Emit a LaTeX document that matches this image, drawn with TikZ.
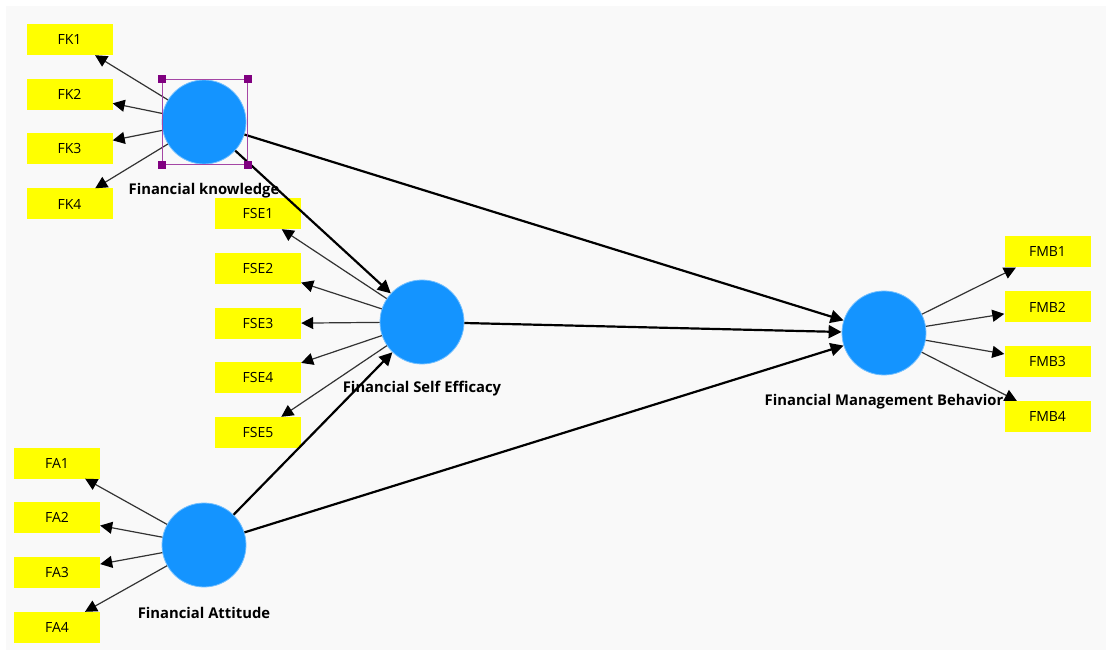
\documentclass[tikz,border=0pt]{standalone}
\usepackage{fontspec}
\setmainfont{Open Sans}
\usetikzlibrary{arrows.meta}
\definecolor{lvblue}{RGB}{20,148,255}
\definecolor{indyellow}{RGB}{255,255,0}
\definecolor{bggray}{RGB}{249,249,249}
\definecolor{selline}{RGB}{165,70,165}
\definecolor{selhandle}{RGB}{128,0,128}
\begin{document}
\begin{tikzpicture}[x=1pt,y=-1pt,
  latent/.style={circle, fill=lvblue, draw=lvblue!60!white, line width=0.8pt, minimum size=84pt, inner sep=0pt},
  ind/.style={rectangle, fill=indyellow, minimum width=86pt, minimum height=31pt, inner sep=0pt, font=\fontsize{14}{16}\selectfont},
  lab/.style={font=\fontsize{14.8}{17}\selectfont\bfseries, inner sep=0pt},
  load/.style={draw=black!80, line width=1.2pt, -{Triangle[length=12pt,width=12pt,color=black]}},
  struct/.style={draw=black, line width=2.2pt, -{Triangle[length=13pt,width=13pt]}},
  handle/.style={rectangle, fill=selhandle, minimum size=8pt, inner sep=0pt},
  selbox/.style={rectangle, draw=selline, line width=1pt, minimum size=85pt, inner sep=0pt}
]
\useasboundingbox (0,0) rectangle (1106,652);
\fill[bggray] (6,6) rectangle (1106,650);

% latent variables
\node[latent] (FK) at (204,122) {};
\node[latent] (FSE) at (422,322) {};
\node[latent] (FA) at (204,545) {};
\node[latent] (FMB) at (884,333) {};

% labels
\node[lab] (lFK) at (204,191) {Financial knowledge};
\node[lab] (lFSE) at (422,389) {Financial Self Efficacy};
\node[lab] (lFA) at (204,613) {Financial Attitude};
\node[lab] (lFMB) at (884,402) {Financial Management Behavior};

% indicators
\node[ind] (FK1) at (69.5,39.5) {FK1};
\node[ind] (FK2) at (69.5,94.5) {FK2};
\node[ind] (FK3) at (69.5,149) {FK3};
\node[ind] (FK4) at (69.5,204) {FK4};

\node[ind] (FSE1) at (258,213.5) {FSE1};
\node[ind] (FSE2) at (258,268.5) {FSE2};
\node[ind] (FSE3) at (258,323.5) {FSE3};
\node[ind] (FSE4) at (258,377.5) {FSE4};
\node[ind] (FSE5) at (258,432.5) {FSE5};

\node[ind] (FA1) at (57,463) {FA1};
\node[ind] (FA2) at (57,517.5) {FA2};
\node[ind] (FA3) at (57,572) {FA3};
\node[ind] (FA4) at (57,627.5) {FA4};

\node[ind] (FMB1) at (1047.5,252) {FMB1};
\node[ind] (FMB2) at (1047.5,307) {FMB2};
\node[ind] (FMB3) at (1047.5,361.5) {FMB3};
\node[ind] (FMB4) at (1047.5,416.5) {FMB4};

% loadings
\foreach \i in {1,...,4} \draw[load] (FK) -- (FK\i);
\foreach \i in {1,...,5} \draw[load] (FSE) -- (FSE\i);
\foreach \i in {1,...,4} \draw[load] (FA) -- (FA\i);
\foreach \i in {1,...,4} \draw[load] (FMB) -- (FMB\i);

% structural paths
\draw[struct] (FK) -- (FSE);
\draw[struct] (FK) -- (FMB);
\draw[struct] (FSE) -- (FMB);
\draw[struct] (FA) -- (FSE);
\draw[struct] (FA) -- (FMB);

% selection frame
\node[selbox] (sel) at (204.5,122) {};
\node[handle] (h1) at (sel.north west) {};
\node[handle] (h2) at (sel.north east) {};
\node[handle] (h3) at (sel.south west) {};
\node[handle] (h4) at (sel.south east) {};
\end{tikzpicture}
\end{document}
